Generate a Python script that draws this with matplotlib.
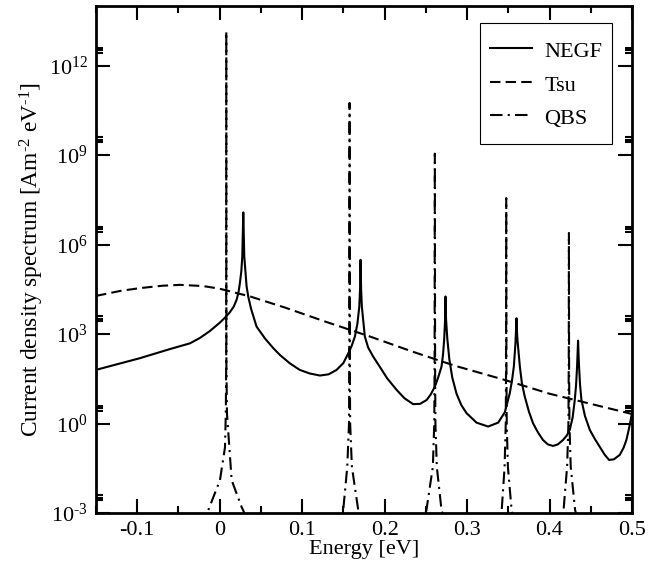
import numpy as np
import matplotlib
matplotlib.use('Agg')
import matplotlib.pyplot as plt
from matplotlib.ticker import FixedLocator
from matplotlib.legend_handler import HandlerLine2D

plt.rcParams['font.family'] = ['Liberation Serif', 'DejaVu Serif']
plt.rcParams['mathtext.fontset'] = 'custom'
plt.rcParams['mathtext.rm'] = 'Liberation Serif'
plt.rcParams['mathtext.it'] = 'Liberation Serif:italic'
plt.rcParams['axes.unicode_minus'] = False

# values, y given as log10
negf_e = [-0.15, -0.097, -0.06, -0.036, -0.024, -0.012, 0.0, 0.006, 0.012, 0.017,
          0.0205, 0.0228, 0.0245, 0.0262, 0.0274, 0.0286,
          0.0298, 0.0326, 0.0346, 0.038, 0.0447, 0.055, 0.0649, 0.073, 0.085, 0.097,
          0.109, 0.1215, 0.132, 0.1418, 0.150, 0.156, 0.160, 0.164, 0.167, 0.1693,
          0.1702, 0.1708,
          0.1715, 0.1724, 0.176, 0.180, 0.186, 0.194, 0.203, 0.2145, 0.224, 0.2346,
          0.243, 0.251, 0.256, 0.261, 0.265, 0.269, 0.2708, 0.2722, 0.2732, 0.2738,
          0.2745, 0.2760, 0.2785, 0.2820, 0.2872, 0.293, 0.2993, 0.3115, 0.3255, 0.3377,
          0.3458, 0.3518, 0.3545, 0.3567, 0.3587, 0.3599,
          0.3605, 0.3611, 0.364, 0.3665, 0.370, 0.375, 0.380, 0.386, 0.392, 0.398,
          0.4043, 0.410, 0.4164, 0.421, 0.4245, 0.428, 0.4306, 0.4322, 0.4334, 0.4340,
          0.4346,
          0.4352, 0.4358, 0.4370, 0.4387, 0.443, 0.4488, 0.455, 0.4609, 0.467, 0.4722,
          0.478, 0.4852, 0.490, 0.4932, 0.4965, 0.5]
negf_log = [1.80, 2.19, 2.50, 2.69, 2.87, 3.10, 3.38, 3.54, 3.72, 3.92,
            4.15, 4.40, 4.71, 5.10, 5.60, 7.08,
            5.60, 4.60, 4.26, 3.85, 3.25, 2.85, 2.53, 2.30, 2.02, 1.80,
            1.68, 1.61, 1.65, 1.80, 2.03, 2.36, 2.60, 2.92, 3.35, 3.92,
            4.50, 5.49,
            4.50, 3.92, 2.92, 2.55, 2.25, 1.91, 1.52, 1.13, 0.85, 0.65,
            0.66, 0.79, 0.98, 1.24, 1.55, 1.91, 2.30, 2.81, 3.40, 4.26,
            3.50, 2.85, 2.15, 1.55, 1.00, 0.62, 0.35, 0.03, -0.10, 0.03,
            0.38, 1.02, 1.45, 1.91, 2.70, 3.53,
            3.10, 2.81, 1.91, 1.35, 0.90, 0.40, 0.01, -0.30, -0.55, -0.70,
            -0.75, -0.70, -0.55, -0.40, -0.21, 0.20, 0.79, 1.30, 1.91, 2.35,
            2.78,
            2.30, 1.91, 1.30, 0.79, 0.25, -0.21, -0.52, -0.78, -1.05, -1.22,
            -1.20, -1.05, -0.80, -0.55, -0.15, 0.35]

tsu_e = [-0.15, -0.12, -0.097, -0.07, -0.048, -0.02, 0.0, 0.037, 0.079, 0.13,
         0.182, 0.235, 0.285, 0.346, 0.40, 0.45, 0.5]
tsu_log = [4.28, 4.45, 4.54, 4.62, 4.65, 4.61, 4.52, 4.26, 3.89, 3.40,
           2.92, 2.40, 1.94, 1.46, 1.00, 0.66, 0.32]

qbs_e = [-0.15, -0.022, -0.0138, 0.0003, 0.0064, 0.0074, 0.0079, 0.008, 0.0081, 0.0088,
         0.0117, 0.0145, 0.0266, 0.035,
         0.143, 0.1498, 0.1547, 0.1568, 0.1572, 0.1575, 0.1578, 0.1582, 0.1603, 0.168, 0.175,
         0.245, 0.2507, 0.2585, 0.2602, 0.2606, 0.2609, 0.2612, 0.2616, 0.2633, 0.269, 0.275,
         0.338, 0.342, 0.3455, 0.3469, 0.3473, 0.3475, 0.3477, 0.3481, 0.3495, 0.354, 0.358,
         0.412, 0.417, 0.4213, 0.4229, 0.4233, 0.4235, 0.4237, 0.4241, 0.4257, 0.431, 0.436, 0.5]
qbs_log = [-5.0, -3.3, -2.9, -1.9, -0.8, 0.35, 2.0, 13.15, 2.0, 0.35,
           -0.8, -1.9, -2.8, -3.3,
           -3.4, -2.9, -1.45, 0.0, 2.0, 10.75, 2.0, 0.0, -1.45, -2.9, -3.4,
           -3.4, -2.9, -1.45, 0.0, 2.0, 9.05, 2.0, 0.0, -1.45, -2.9, -3.4,
           -3.4, -2.9, -1.45, 0.0, 2.0, 7.56, 2.0, 0.0, -1.45, -2.9, -3.4,
           -3.4, -2.9, -1.45, 0.0, 2.0, 6.39, 2.0, 0.0, -1.45, -2.9, -3.4, -5.0]

xtick_vals = [-0.1, 0.0, 0.1, 0.2, 0.3, 0.4, 0.5]
xtick_labels = ['-0.1', '0', '0.1', '0.2', '0.3', '0.4', '0.5']
ytick_vals = [1e-3, 1e0, 1e3, 1e6, 1e9, 1e12]
ytick_labels = ['$10^{\u20103}$', '$10^{0}$', '$10^{3}$', '$10^{6}$', '$10^{9}$', '$10^{12}$']


class LowerHandler(HandlerLine2D):
    # nudge legend lines down so they sit at the middle of the text
    def create_artists(self, legend, orig_handle, xdescent, ydescent, width, height,
                       fontsize, trans):
        arts = super().create_artists(legend, orig_handle, xdescent, ydescent, width,
                                      height, fontsize, trans)
        for a in arts:
            a.set_ydata(np.asarray(a.get_ydata(), dtype=float) - 2.2)
        return arts


fig = plt.figure(figsize=(6.64, 5.66), dpi=100)
ax = fig.add_axes([0.1446, 0.0936, 0.8072, 0.8958])

lw = 1.5
ax.plot(negf_e, 10.0 ** np.array(negf_log), color='black', lw=lw, ls='-', label='NEGF')
ax.plot(tsu_e, 10.0 ** np.array(tsu_log), color='black', lw=lw, ls=(0, (5, 2.5)), label='Tsu')
ax.plot(qbs_e, 10.0 ** np.array(qbs_log), color='black', lw=lw, ls=(0, (6, 2.5, 1, 2.5)),
        label='QBS')

ax.set_yscale('log')
ax.set_xlim(-0.15, 0.5)
ax.set_ylim(1e-3, 1e14)

ax.set_xticks(xtick_vals)
ax.set_xticklabels(xtick_labels)
ax.xaxis.set_minor_locator(FixedLocator([-0.15, -0.05, 0.05, 0.15, 0.25, 0.35, 0.45]))
ax.set_yticks(ytick_vals)
ax.set_yticklabels(ytick_labels)
ax.yaxis.set_minor_locator(FixedLocator([s * 10.0 ** m for m in range(-3, 15, 3)
                                         for s in (2.7, 3.3, 3.9)]))
ax.yaxis.set_minor_formatter(plt.NullFormatter())

ax.tick_params(which='both', direction='in', top=True, right=True, width=1.5,
               labelsize=16, pad=6)
ax.tick_params(which='major', length=10)
ax.tick_params(which='minor', length=5)
for s in ax.spines.values():
    s.set_linewidth(2)

ax.set_xlabel('Energy [eV]', fontsize=16, labelpad=0)
ax.set_ylabel('Current density spectrum [Am$^{\u20102}$ eV$^{\u20101}$]', fontsize=16.8,
              labelpad=2)

leg = ax.legend(loc='upper right', bbox_to_anchor=(0.963, 0.966), borderaxespad=0,
                fontsize=16, fancybox=False, framealpha=1, edgecolor='black',
                handlelength=1.9, handleheight=1.95, labelspacing=0.0, borderpad=0.45,
                handletextpad=0.55, handler_map={plt.Line2D: LowerHandler()})
leg.get_frame().set_linewidth(0.8)

fig.savefig('out.png', dpi=100)
